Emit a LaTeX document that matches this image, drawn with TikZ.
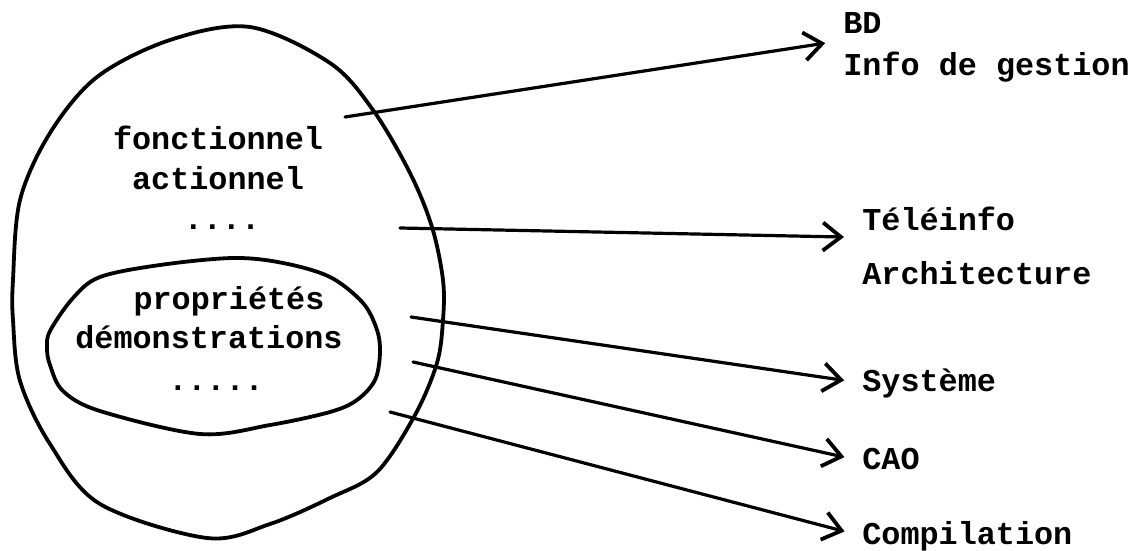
\documentclass[tikz,border=0pt]{standalone}
\usepackage{fontspec}
\setmonofont{Liberation Mono}
\usetikzlibrary{arrows.meta}
\tikzstyle{word} = [font=\ttfamily\bfseries\fontsize{15.9}{19}\selectfont, inner sep=0pt, text height=11pt, text depth=3pt]
\tikzstyle{topic} = [word, anchor=west]
\tikzstyle{outline} = [line width=1.9pt, line join=round]
\tikzstyle{arrow} = [line width=1.6pt, line cap=round, shorten >=9pt, -{Straight Barb[length=9pt, width=14pt, line width=1.9pt]}]

\begin{document}
\begin{tikzpicture}[x=0.5pt, y=-0.5pt]
\useasboundingbox (0,0) rectangle (1137,551);
% outer egg and inner ellipse
\draw [outline] plot [smooth cycle, tension=0.55] coordinates {(250,27) (330,63) (373,110) (410,173) (432,227) (443,280) (443,320) (437,363) (415,415) (377,472) (330,498) (270,524) (207,538) (100,504) (50,444) (20,381) (13,320) (13,280) (20,200) (50,133) (97,77) (170,40)};
\draw [outline] plot [smooth cycle, tension=0.55] coordinates {(233,258) (283,263) (330,277) (363,303) (377,330) (380,353) (375,380) (357,400) (330,412) (270,425) (200,434) (100,411) (63,391) (50,365) (47,348) (50,331) (73,298) (100,277) (160,265)};

\node (fonc) [word] at (218,142) {fonctionnel};
\node (act) [word] at (218,182) {actionnel};
\node (etc1) [word] at (222,222) {....};
\node (prop) [word] at (229,301) {propriétés};
\node (demo) [word] at (209,341) {démonstrations};
\node (etc2) [word] at (216,382) {.....};

\node (bd) [topic] at (843,26) {BD};
\node (info) [topic] at (843,68) {Info de gestion};
\node (tele) [topic] at (862,223) {Téléinfo};
\node (archi) [topic] at (862,277) {Architecture};
\node (sys) [topic] at (862,383) {Système};
\node (cao) [topic] at (862,461) {CAO};
\node (comp) [topic] at (862,536) {Compilation};

\coordinate (toBD) at (345,117);
\coordinate (toTele) at (400,228);
\coordinate (toSys) at (411,317);
\coordinate (toCAO) at (413,362);
\coordinate (toComp) at (390,412);

\draw [arrow] (toBD) -- (bd.south west);
\draw [arrow] (toTele) -- (tele.south west);
\draw [arrow] (toSys) -- (sys.west);
\draw [arrow] (toCAO) -- (cao.west);
\draw [arrow] (toComp) -- (comp.west);
\end{tikzpicture}
\end{document}
